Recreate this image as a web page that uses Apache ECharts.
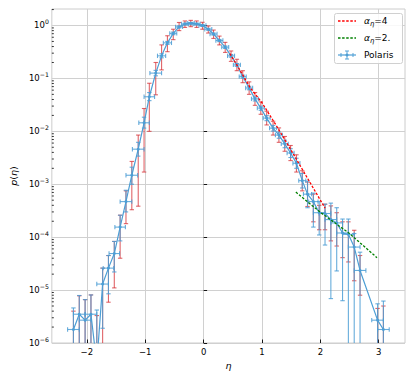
<!DOCTYPE html>
<html><head><meta charset="utf-8">
<script src="https://cdn.jsdelivr.net/npm/echarts@6/dist/echarts.min.js"></script>
<style>html,body{margin:0;padding:0;background:#fff}#c{width:415px;height:379px}</style>
</head><body><div id="c"></div>
<script>
// ---- data ----
const eta = [-2.23,-2.13,-2.03,-1.93,-1.83,-1.73,-1.63,-1.53,-1.43,-1.33,-1.23,-1.12,-1.02,
  -0.93,-0.82,-0.72,-0.62,-0.52,-0.42,-0.32,-0.22,-0.12,-0.02,
  0.08,0.17,0.27,0.37,0.47,0.57,0.67,0.78,0.88,0.98,
  1.08,1.19,1.29,1.39,1.49,1.59,1.69,1.78,1.88,1.98,
  2.08,2.18,2.28,2.38,2.48,2.58,2.68,2.98,3.08];
const pEta = [1.8e-6,3.5e-6,2.7e-6,3.5e-6,4e-7,1.3e-5,2.6e-5,4.9e-5,1.55e-4,4.7e-4,1.48e-3,4.6e-3,0.0145,
  0.045,0.126,0.267,0.47,0.71,0.94,1.07,1.10,1.07,1.0,
  0.85,0.69,0.52,0.39,0.267,0.18,0.108,0.066,0.041,0.0275,
  0.0178,0.0115,0.0085,0.0058,0.0039,0.0025,0.00117,6.5e-4,4.7e-4,2.9e-4,
  2.8e-4,2.15e-4,1.86e-4,1.2e-4,1.13e-4,6.5e-5,2.35e-5,2.7e-6,1.8e-6];
const etaErr = [0.1,0.1,0.1,0.1,0.1,0.1,0.09,0.09,0.09,0.1,0.1,0.1,0.09,
  0.09,0.1,0.07,0.07,0.06,0.06,0.06,0.06,0.06,0.06,
  0.06,0.06,0.06,0.06,0.06,0.06,0.06,0.06,0.06,0.06,
  0.06,0.06,0.06,0.06,0.06,0.06,0.06,0.07,0.08,0.1,
  0.1,0.1,0.1,0.1,0.1,0.1,0.1,0.1,0.1];
const blueLo = [1e-8,1e-8,1e-8,1e-8,1e-8,1.9e-6,8.5e-6,2.2e-5,8.5e-5,3.0e-4,1.0e-3,3.4e-3,0.0115,
  0.038,0.112,0.245,0.44,0.67,0.90,1.03,1.06,1.03,0.96,
  0.815,0.66,0.495,0.37,0.252,0.169,0.101,0.061,0.0375,0.025,
  0.0159,0.0101,0.0074,0.0049,0.0032,0.0020,8.5e-4,3.6e-4,1.55e-4,1.1e-4,
  7.1e-5,6.9e-6,2.3e-5,6.3e-6,1e-8,1e-8,1e-8,1e-8,1e-8];
const blueHi = [4.6e-6,7.9e-6,6.6e-6,8.1e-6,4.2e-6,2.6e-5,4.5e-5,8.3e-5,2.6e-4,7.7e-4,2.1e-3,6.2e-3,0.0185,
  0.054,0.142,0.292,0.50,0.75,0.98,1.11,1.14,1.11,1.04,
  0.885,0.72,0.545,0.41,0.283,0.191,0.115,0.071,0.0445,0.030,
  0.0198,0.0129,0.0097,0.0068,0.0047,0.0031,1.6e-3,1.15e-3,6.8e-4,4.7e-4,
  4.2e-4,4.4e-4,3.6e-4,2.2e-4,2.2e-4,1.17e-4,5.2e-5,5.5e-6,6.2e-6];
const redLo = [1e-8,1e-8,1e-8,1e-8,1e-8,1e-8,5.9e-6,1.1e-5,4.0e-5,1.8e-4,3.3e-4,3.85e-4,1.7e-3,
  0.010,0.049,0.145,0.32,0.54,0.80,0.92,0.95,0.92,0.85,
  0.72,0.57,0.43,0.31,0.21,0.14,0.083,0.050,0.031,0.021,
  0.0132,0.0085,0.0062,0.0042,0.0028,0.0017,7.5e-4,3.8e-4,1.95e-4,1.38e-4,
  1.38e-4,8.5e-5,6.8e-5,4.1e-5,3.4e-5,1.5e-5,8e-6,1e-8,1e-8];
const redHi = [4.0e-6,7.8e-6,6.6e-6,8.1e-6,3.3e-6,2.6e-5,4.5e-5,8.3e-5,2.6e-4,7.5e-4,2.7e-3,8.5e-3,0.027,
  0.081,0.20,0.43,0.64,0.85,1.14,1.22,1.25,1.22,1.15,
  0.98,0.82,0.63,0.48,0.33,0.23,0.14,0.086,0.054,0.036,
  0.024,0.0155,0.0116,0.008,0.0054,0.0036,1.8e-3,1.1e-3,6.5e-4,4.0e-4,
  4.2e-4,3.9e-4,2.9e-4,1.95e-4,1.95e-4,1.35e-4,4.5e-5,4.5e-6,5e-6];
const alpha4Eta = [0.45,0.6,0.8,1.0,1.25,1.5,1.75,2.0,2.08];
const alpha4P = [0.295,0.158,0.066,0.0347,0.0126,0.00437,0.00148,5.0e-4,3.55e-4];
const alpha2Eta = [1.58,2.0,2.5,2.97];
const alpha2P = [7.1e-4,2.95e-4,1.17e-4,4.1e-5];
const xTicks = [-2,-1,0,1,2,3];
const yTicks = [1e-6,1e-5,1e-4,1e-3,1e-2,1e-1,1];
const minorMult = [2,3,4,5,6,7,8,9];
const legendLabels = ['4','2.','Polaris'];

// ---- chart ----
const X_MIN = -2.6, X_MAX = 3.45, Y_MIN = 1e-6, Y_MAX = 2.05;
const BLUE = '#4c9ed5', BLUE_ERR = 'rgba(76,158,213,0.85)', RED_ERR = 'rgba(214,50,55,0.75)';
const FONT = 'DejaVu Sans';
const yMinor = [];
yTicks.forEach(d => minorMult.forEach(m => { const v = d * m; if (v < Y_MAX) yMinor.push([0, v]); }));

function errItem(color, withX, capW) {
  return function (params, api) {
    const x = api.value(0), y = api.value(1), xe = api.value(2), lo = api.value(3), hi = api.value(4);
    const pl = api.coord([x, lo]), ph = api.coord([x, hi]);
    const st = { stroke: color, lineWidth: 1.1 };
    const ch = [
      { type: 'line', shape: { x1: pl[0], y1: pl[1], x2: ph[0], y2: ph[1] }, style: st },
      { type: 'line', shape: { x1: pl[0] - capW, y1: pl[1], x2: pl[0] + capW, y2: pl[1] }, style: st },
      { type: 'line', shape: { x1: ph[0] - capW, y1: ph[1], x2: ph[0] + capW, y2: ph[1] }, style: st }
    ];
    if (withX) {
      const a = api.coord([x - xe, y]), b = api.coord([x + xe, y]);
      ch.push({ type: 'line', shape: { x1: a[0], y1: a[1], x2: b[0], y2: b[1] }, style: st });
      ch.push({ type: 'line', shape: { x1: a[0], y1: a[1] - capW, x2: a[0], y2: a[1] + capW }, style: st });
      ch.push({ type: 'line', shape: { x1: b[0], y1: b[1] - capW, x2: b[0], y2: b[1] + capW }, style: st });
    }
    return { type: 'group', children: ch };
  };
}

const chart = echarts.init(document.getElementById('c'), null, { renderer: 'svg' });
const mathRich = {
  i: { fontFamily: FONT, fontStyle: 'italic', fontSize: 9.5, color: '#000' },
  n: { fontFamily: FONT, fontSize: 9.5, color: '#000' },
  sub: { fontFamily: FONT, fontStyle: 'italic', fontSize: 6.8, color: '#000', verticalAlign: 'bottom', lineHeight: 13 },
  t: { fontFamily: FONT, fontSize: 9, color: '#000', lineHeight: 13 },
  ti: { fontFamily: FONT, fontStyle: 'italic', fontSize: 9, color: '#000', lineHeight: 13 }
};

chart.setOption({
  animation: false,
  backgroundColor: '#fff',
  grid: { left: 50, top: 9, width: 355, height: 334, show: true, borderColor: '#cccccc', borderWidth: 1, backgroundColor: 'transparent' },
  xAxis: {
    type: 'value', min: X_MIN, max: X_MAX,
    name: 'η', nameLocation: 'middle', nameGap: 13,
    nameTextStyle: { fontFamily: FONT, fontStyle: 'italic', fontSize: 9.5, color: '#000', verticalAlign: 'top' },
    axisLine: { show: false },
    axisTick: { show: true, inside: true, length: 3.5, customValues: xTicks, lineStyle: { color: '#000', width: 0.9 } },
    axisLabel: { customValues: xTicks, margin: 4, fontFamily: FONT, fontSize: 8.5, color: '#000',
      formatter: v => String(v).replace('-', '\u2212') },
    splitLine: { show: true, lineStyle: { color: '#d0d0d0', width: 1 } }
  },
  yAxis: {
    type: 'log', min: Y_MIN, max: Y_MAX, logBase: 10,
    name: '{i|p}{n|(}{i|η}{n|)}', nameLocation: 'middle', nameGap: 25, nameRotate: 90,
    nameTextStyle: { rich: mathRich },
    axisLine: { show: false },
    axisTick: { show: true, inside: true, length: 3.5, customValues: yTicks, lineStyle: { color: '#000', width: 0.9 } },
    axisLabel: {
      customValues: yTicks, margin: 3,
      formatter: v => { const e = Math.round(Math.log10(v)); return '{b|10}{s|' + (e < 0 ? '\u2212' : '') + Math.abs(e) + '}'; },
      rich: {
        b: { fontFamily: FONT, fontSize: 8.5, color: '#000', lineHeight: 13 },
        s: { fontFamily: FONT, fontSize: 6.2, color: '#000', verticalAlign: 'top', lineHeight: 8 }
      }
    },
    splitLine: { show: true, lineStyle: { color: '#d0d0d0', width: 1 } }
  },
  series: [
    {
      type: 'custom', name: 'minorTicks', silent: true, z: 1,
      data: yMinor, encode: { x: 0, y: 1 },
      renderItem: (params, api) => {
        const cs = params.coordSys; const p = api.coord([X_MIN, api.value(1)]);
        return { type: 'line', shape: { x1: cs.x, y1: p[1], x2: cs.x + 2, y2: p[1] }, style: { stroke: '#000', lineWidth: 0.8 } };
      }
    },
    {
      type: 'custom', name: 'redErr', clip: true, silent: true, z: 2,
      data: eta.map((x, i) => [x, pEta[i], etaErr[i], redLo[i], redHi[i]]),
      encode: { x: 0, y: 1 }, renderItem: errItem(RED_ERR, false, 2.2)
    },
    {
      type: 'custom', name: 'blueErr', clip: true, silent: true, z: 3,
      data: eta.map((x, i) => [x, pEta[i], etaErr[i], blueLo[i], blueHi[i]]),
      encode: { x: 0, y: 1 }, renderItem: errItem(BLUE_ERR, true, 2.2)
    },
    {
      type: 'line', name: 'Polaris', z: 4, clip: true,
      data: eta.map((x, i) => [x, pEta[i]]),
      symbol: 'circle', symbolSize: 3, showSymbol: true,
      itemStyle: { color: BLUE }, lineStyle: { color: BLUE, width: 1.2 }
    },
    {
      type: 'line', name: 'a4', z: 5, clip: true, symbol: 'none',
      data: alpha4Eta.map((x, i) => [x, alpha4P[i]]),
      lineStyle: { color: '#ff0000', width: 1.3, type: [2.5, 1.6] }
    },
    {
      type: 'line', name: 'a2', z: 5, clip: true, symbol: 'none',
      data: alpha2Eta.map((x, i) => [x, alpha2P[i]]),
      lineStyle: { color: '#008000', width: 1.3, type: [2.5, 1.6] }
    }
  ],
  graphic: [
    { type: 'rect', z: 100, shape: { x: 334.5, y: 13.5, width: 68, height: 50, r: 2 },
      style: { fill: 'rgba(255,255,255,0.85)', stroke: '#d0d0d0', lineWidth: 1 } },
    { type: 'line', z: 101, shape: { x1: 338, y1: 21, x2: 356, y2: 21 }, style: { stroke: '#ff0000', lineWidth: 1.3, lineDash: [2.5, 1.6] } },
    { type: 'line', z: 101, shape: { x1: 338, y1: 38, x2: 356, y2: 38 }, style: { stroke: '#008000', lineWidth: 1.3, lineDash: [2.5, 1.6] } },
    { type: 'line', z: 101, shape: { x1: 338, y1: 55, x2: 356, y2: 55 }, style: { stroke: BLUE, lineWidth: 1.2 } },
    { type: 'line', z: 101, shape: { x1: 347, y1: 51, x2: 347, y2: 59 }, style: { stroke: BLUE_ERR, lineWidth: 1.1 } },
    { type: 'line', z: 101, shape: { x1: 345, y1: 51, x2: 349, y2: 51 }, style: { stroke: BLUE_ERR, lineWidth: 1.1 } },
    { type: 'line', z: 101, shape: { x1: 345, y1: 59, x2: 349, y2: 59 }, style: { stroke: BLUE_ERR, lineWidth: 1.1 } },
    { type: 'line', z: 101, shape: { x1: 341, y1: 53, x2: 341, y2: 57 }, style: { stroke: BLUE_ERR, lineWidth: 1.1 } },
    { type: 'line', z: 101, shape: { x1: 353, y1: 53, x2: 353, y2: 57 }, style: { stroke: BLUE_ERR, lineWidth: 1.1 } },
    { type: 'circle', z: 101, shape: { cx: 347, cy: 55, r: 1.5 }, style: { fill: BLUE } },
    { type: 'text', z: 101, x: 364, y: 21, style: { text: '{ti|α}{sub|η}{t|=' + legendLabels[0] + '}', rich: mathRich, verticalAlign: 'middle' } },
    { type: 'text', z: 101, x: 364, y: 38, style: { text: '{ti|α}{sub|η}{t|=' + legendLabels[1] + '}', rich: mathRich, verticalAlign: 'middle' } },
    { type: 'text', z: 101, x: 364, y: 55, style: { text: legendLabels[2], fontFamily: FONT, fontSize: 9, fill: '#000', verticalAlign: 'middle' } }
  ]
});
</script>
</body></html>
